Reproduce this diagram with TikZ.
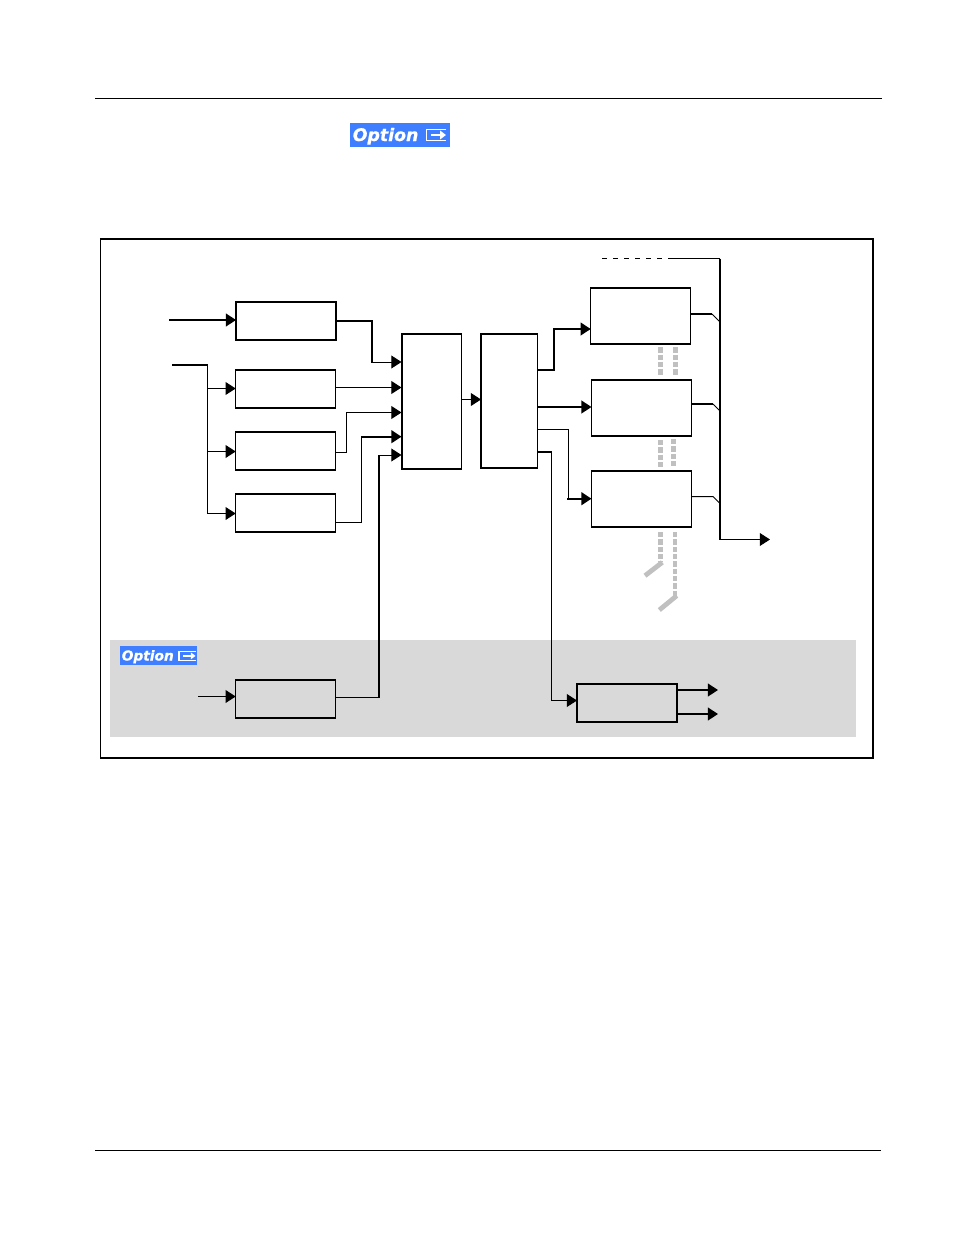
\documentclass[tikz,border=0pt]{standalone}
\usepackage{fontspec}
\newfontfamily\optfont{DejaVu Sans}[BoldItalicFeatures={FakeBold=0.7}]
\usetikzlibrary{arrows.meta}
\definecolor{optblue}{HTML}{3F7FFF}
\definecolor{panelgray}{HTML}{D9D9D9}
\definecolor{trunkgray}{HTML}{C0C0C0}
\tikzset{
  x=0.75pt,y=-0.75pt,
  blockbox/.style={draw=black,line width=1.05pt,fill=none,inner sep=0pt,outer sep=0pt},
  thinwire/.style={draw=black,line width=0.75pt},
  thickwire/.style={draw=black,line width=1.25pt},
  tipwire/.style={-{Triangle[length=7.6pt,width=9.6pt]}},
  rule/.style={draw=black,line width=0.6pt},
  trunk/.style={draw=trunkgray,line width=3.5pt,dash pattern=on 3.9pt off 1.6pt},
  trunkthin/.style={draw=trunkgray,line width=3pt,dash pattern=on 3.9pt off 1.6pt},
  trunkend/.style={draw=trunkgray,line width=3.6pt},
  badgelarge/.style={fill=optblue,inner sep=0pt,outer sep=0pt,minimum width=75pt,minimum height=18pt},
  badgesmall/.style={fill=optblue,inner sep=0pt,outer sep=0pt,minimum width=58pt,minimum height=14.25pt},
}
\begin{document}
\begin{tikzpicture}
\useasboundingbox[fill=white] (0,0) rectangle (954,1235);
% page rules
\coordinate (ruleTopL) at (95,98.5); \coordinate (ruleTopR) at (882,98.5);
\coordinate (ruleBotL) at (95,1150); \coordinate (ruleBotR) at (881,1150);
\draw[rule] (ruleTopL) -- (ruleTopR);
\draw[rule] (ruleBotL) -- (ruleBotR);
% top badge
\node[badgelarge] (badgeA) at (400,135) {};
\node[text=white,font=\optfont\bfseries\itshape\fontsize{13}{13}\selectfont,anchor=base west,inner sep=0pt] (badgeAtext) at (352.5,141) {Option};
\draw[white,line width=1.3pt] (446,129.5) -- (426.5,129.5) -- (426.5,140.5) -- (446,140.5);
\draw[white,line width=1.8pt,-{Triangle[length=4.5pt,width=6.5pt]}] (431,135) -- (446,135);
% frame and panel
\node[draw=black,line width=1.2pt,inner sep=0pt,minimum width=579.5pt,minimum height=389.25pt] (frame) at (486.75,498.5) {};
\node[fill=panelgray,inner sep=0pt,minimum width=559.5pt,minimum height=72.75pt] (panel) at (483,688.5) {};
% small badge
\node[badgesmall] (badgeB) at (158.5,655.5) {};
\node[text=white,font=\optfont\bfseries\itshape\fontsize{10.3}{10.3}\selectfont,anchor=base west,inner sep=0pt] (badgeBtext) at (121.5,660.5) {Option};
\draw[white,line width=1pt] (195.5,651.5) -- (179,651.5) -- (179,660.3) -- (195.5,660.3);
\draw[white,line width=1.4pt,-{Triangle[length=3.5pt,width=5pt]}] (183,655.9) -- (195.5,655.9);
% blocks
\node[blockbox,minimum width=75pt,minimum height=28.5pt] (a1) at (286,321) {};
\node[blockbox,minimum width=75pt,minimum height=28.5pt] (a2) at (285.7,389) {};
\node[blockbox,minimum width=75pt,minimum height=28.5pt] (a3) at (285.7,451) {};
\node[blockbox,minimum width=75pt,minimum height=28.5pt] (a4) at (285.7,513) {};
\node[blockbox,minimum width=75pt,minimum height=28.5pt] (opt) at (285.7,699) {};
\node[blockbox,minimum width=44.6pt,minimum height=101.25pt] (mux) at (431.8,401.5) {};
\node[blockbox,minimum width=42.4pt,minimum height=100.5pt] (proc) at (509.3,401) {};
\node[blockbox,minimum width=75pt,minimum height=42pt] (o1) at (640.7,316) {};
\node[blockbox,minimum width=75pt,minimum height=42pt] (o2) at (641.5,408) {};
\node[blockbox,minimum width=75pt,minimum height=42pt] (o3) at (641.5,499) {};
\node[blockbox,minimum width=75pt,minimum height=28.5pt] (q) at (627,703) {};
% free ends and entry points
\coordinate (inA) at (169,320);
\coordinate (inB) at (172,365);
\coordinate (inOpt) at (198,696.5);
\coordinate (splitA) at (207.5,365);
\coordinate (m1) at (401.5,362); \coordinate (m2) at (401.5,387.5); \coordinate (m3) at (401.5,412.5);
\coordinate (m4) at (401.5,436.7); \coordinate (m5) at (401.5,455);
\coordinate (dashL) at (602,258.5);
\coordinate (dashR) at (669,258.5);
\coordinate (busTop) at (720,258.5);
\coordinate (busBot) at (720,539.5);
\coordinate (busOut) at (770,539.5);
\coordinate (qa) at (718,690); \coordinate (qb) at (718,714);
% inputs
\draw[thickwire,tipwire] (inA) -- (a1.west |- inA);
\draw[thickwire] (inB) -- (splitA);
\draw[thinwire,tipwire] (splitA) |- (a4.west |- 0,513.5);
\draw[thinwire,tipwire] (207.5,388.5) -- (a2.west |- 0,388.5);
\draw[thinwire,tipwire] (207.5,451.5) -- (a3.west |- 0,451.5);
\draw[thinwire,tipwire] (inOpt) -- (opt.west |- inOpt);
% into mux
\draw[thickwire] (a1.east) -- (372,321) -- (372,362.5);
\draw[thinwire,tipwire] (371.5,362) -- (m1);
\draw[thinwire,tipwire] (a2.east |- m2) -- (m2);
\draw[thinwire,tipwire] (336,452.5) -- (346.5,452.5) |- (m3);
\draw[thinwire] (336,522.5) -- (361.5,522.5) -- (361.5,436.7);
\draw[thickwire,tipwire] (361,436.7) -- (m4);
\draw[thinwire] (336,697.5) -- (378.7,697.5);
\draw[thickwire] (378.7,698) -- (378.7,455);
\draw[thinwire,tipwire] (378.7,455) -- (m5);
% mux to proc
\draw[thinwire,tipwire] (461.5,399.5) -- (proc.west |- 0,399.5);
% proc outs
\draw[thickwire,tipwire] (537.5,370) -- (554,370) |- (o1.west |- 0,329);
\draw[thickwire,tipwire] (537.5,407) -- (o2.west |- 0,407);
\draw[thinwire] (537.5,429.5) -- (568.5,429.5) -- (568.5,499);
\draw[thickwire,tipwire] (567,498.7) -- (o3.west |- 0,498.7);
\draw[thickwire] (537.5,452) -- (551.5,452);
\draw[thinwire,tipwire] (551.5,451.5) |- (q.west |- 0,700.5);
\draw[thickwire,tipwire] (q.east |- qa) -- (qa);
\draw[thickwire,tipwire] (q.east |- qb) -- (qb);
% bus
\draw[draw=black,line width=0.65pt,dash pattern=on 3.75pt off 4.5pt] (dashL) -- (dashR);
\draw[thinwire] (dashR) -- (busTop);
\draw[line width=1.35pt] (busTop) -- (busBot);
\draw[thinwire,tipwire] (busBot) -- (busOut);
\draw[thickwire] (o1.east |- 0,314) -- (712,314);
\draw[thinwire] (712,314) -- (720,322);
\draw[thickwire] (o2.east |- 0,404) -- (713,404);
\draw[thinwire] (713,404) -- (720,411);
\draw[thinwire] (o3.east |- 0,496.5) -- (713,496.5) -- (720,503.5);
% grey trunks
\draw[trunk] (660.5,347.3) -- (660.5,375);
\draw[trunk] (675.5,347.3) -- (675.5,375);
\draw[trunk] (660.5,440) -- (660.5,467);
\draw[trunk] (673.3,439) -- (673.3,466);
\draw[trunk] (660.5,532) -- (660.5,562);
\draw[trunkend] (662.3,562.3) -- (645,575.7);
\draw[trunkthin] (675,532) -- (675,596);
\draw[trunkend] (676.7,595.7) -- (659.3,610);
\end{tikzpicture}
\end{document}
